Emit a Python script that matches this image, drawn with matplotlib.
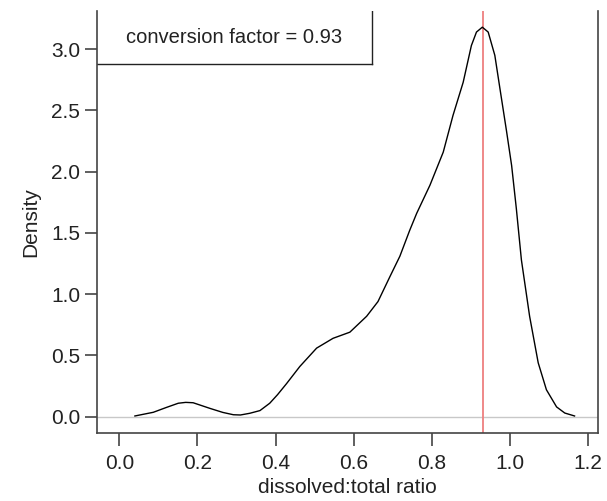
import matplotlib
matplotlib.use('Agg')
import matplotlib.pyplot as plt
from matplotlib.lines import Line2D

plt.rcParams['font.family'] = ['Liberation Sans', 'DejaVu Sans']

# density curve
ratio = [0.040, 0.087, 0.120, 0.151, 0.170, 0.189, 0.232, 0.265, 0.292, 0.310,
         0.334, 0.360, 0.385, 0.405, 0.428, 0.462, 0.505, 0.547, 0.590, 0.633,
         0.662, 0.692, 0.718, 0.743, 0.761, 0.795, 0.829, 0.854, 0.880, 0.901,
         0.914, 0.929, 0.944, 0.961, 0.974, 0.991, 1.004, 1.016, 1.029, 1.050,
         1.072, 1.093, 1.119, 1.140, 1.165]
density = [0.006, 0.036, 0.075, 0.110, 0.117, 0.114, 0.068, 0.035, 0.016, 0.014,
           0.028, 0.050, 0.110, 0.180, 0.270, 0.410, 0.560, 0.640, 0.690, 0.820,
           0.940, 1.140, 1.310, 1.520, 1.660, 1.890, 2.160, 2.460, 2.730, 3.030,
           3.140, 3.180, 3.140, 2.950, 2.680, 2.330, 2.050, 1.700, 1.280, 0.820,
           0.440, 0.220, 0.080, 0.030, 0.006]
conv_factor = 0.93
xticks = [0.0, 0.2, 0.4, 0.6, 0.8, 1.0, 1.2]
yticks = [0.0, 0.5, 1.0, 1.5, 2.0, 2.5, 3.0]

fig = plt.figure(figsize=(6.07, 5.01), dpi=100)
ax = fig.add_axes([97/607, 1-433/501, (598-97)/607, (433-11)/501])
ax.set_facecolor('white')

ax.axhline(0, color='#c8c8c8', lw=1)
ax.axvline(conv_factor, color='#ee7f7f', lw=1.3)
ax.plot(ratio, density, color='black', lw=1, solid_joinstyle='round')

ax.set_xlim(-0.057, 1.225)
ax.set_ylim(-0.133, 3.312)
ax.set_xticks(xticks)
ax.set_yticks(yticks)
ax.set_xticklabels(['%.1f' % t for t in xticks])
ax.set_yticklabels(['%.1f' % t for t in yticks])

sc = '#444444'
ax.spines['top'].set_visible(False)
for s in ['left', 'right', 'bottom']:
    ax.spines[s].set_color(sc)
    ax.spines[s].set_linewidth(1.2)
ax.tick_params(axis='both', direction='out', length=9, width=1.2, color=sc,
               labelsize=15, labelcolor='#222222')
ax.tick_params(axis='x', pad=6)
ax.tick_params(axis='y', pad=3)
ax.tick_params(axis='y', right=False)

ax.set_xlabel('dissolved:total ratio', fontsize=15, color='#222222', labelpad=4)
ax.set_ylabel('Density', fontsize=15, color='#222222', labelpad=8)

# box with the factor
bx = (372-97)/(598-97)
by = (433-64)/(433-11)
ax.add_line(Line2D([0, bx], [by, by], transform=ax.transAxes, color='#222222', lw=1))
ax.add_line(Line2D([bx, bx], [by, 1], transform=ax.transAxes, color='#222222', lw=1))
ax.text(bx/2, (by+1)/2, 'conversion factor = %.2f' % conv_factor, transform=ax.transAxes,
        ha='center', va='center', fontsize=14.5, color='#222222')

fig.savefig('out.png', dpi=100)
